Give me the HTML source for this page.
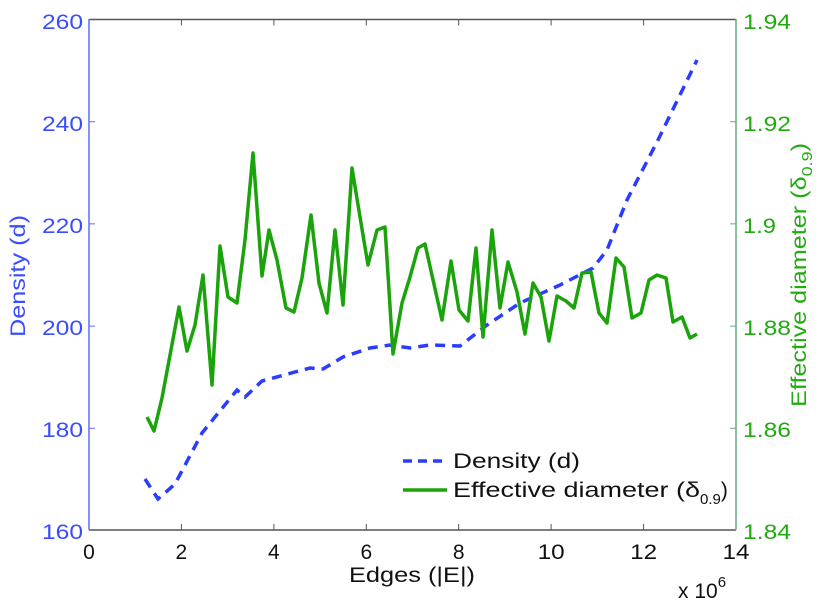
<!DOCTYPE html>
<html><head><meta charset="utf-8"><style>body{margin:0;background:#fff}svg{display:block}</style></head>
<body>
<svg width="822" height="600" xmlns="http://www.w3.org/2000/svg" font-family="Liberation Sans, sans-serif">
<rect width="822" height="600" fill="#fff"/>
<g stroke="#555" stroke-width="1.5" fill="none">
<line x1="89" y1="19.5" x2="736" y2="19.5"/>
<line x1="89" y1="530" x2="736" y2="530"/>
</g>
<g stroke="#555" stroke-width="1">
<path d="M181.4,530v-6M273.9,530v-6M366.3,530v-6M458.7,530v-6M551.1,530v-6M643.6,530v-6M181.4,19.5v6M273.9,19.5v6M366.3,19.5v6M458.7,19.5v6M551.1,19.5v6M643.6,19.5v6"/>
</g>
<line x1="89" y1="19" x2="89" y2="530" stroke="#5a6cff" stroke-width="1.5"/>
<path d="M89,121.7h6M89,223.9h6M89,326.1h6M89,428.2h6" stroke="#5a6cff"/>
<line x1="736" y1="19" x2="736" y2="530" stroke="#6aa88a" stroke-width="1.5"/>
<path d="M736,121.7h-6M736,223.9h-6M736,326.1h-6M736,428.2h-6" stroke="#6aa88a"/>
<g fill="#3a4cff" font-size="21" text-anchor="end">
<text x="83" y="29" textLength="41" lengthAdjust="spacingAndGlyphs">260</text><text x="83" y="131" textLength="41" lengthAdjust="spacingAndGlyphs">240</text><text x="83" y="233" textLength="41" lengthAdjust="spacingAndGlyphs">220</text><text x="83" y="335" textLength="41" lengthAdjust="spacingAndGlyphs">200</text><text x="83" y="437" textLength="41" lengthAdjust="spacingAndGlyphs">180</text><text x="83" y="539" textLength="41" lengthAdjust="spacingAndGlyphs">160</text>
</g>
<g fill="#22aa11" font-size="21" text-anchor="start">
<text x="743" y="29" textLength="48" lengthAdjust="spacingAndGlyphs">1.94</text><text x="743" y="131" textLength="48" lengthAdjust="spacingAndGlyphs">1.92</text><text x="743" y="233" textLength="33" lengthAdjust="spacingAndGlyphs">1.9</text><text x="743" y="335" textLength="48" lengthAdjust="spacingAndGlyphs">1.88</text><text x="743" y="437" textLength="48" lengthAdjust="spacingAndGlyphs">1.86</text><text x="743" y="539" textLength="48" lengthAdjust="spacingAndGlyphs">1.84</text>
</g>
<g fill="#111" font-size="21" text-anchor="middle">
<text x="89" y="559">0</text><text x="181.4" y="559">2</text><text x="273.9" y="559">4</text><text x="366.3" y="559">6</text><text x="458.7" y="559">8</text><text x="551.1" y="559" textLength="27" lengthAdjust="spacingAndGlyphs">10</text><text x="643.6" y="559" textLength="27" lengthAdjust="spacingAndGlyphs">12</text><text x="736" y="559" textLength="27" lengthAdjust="spacingAndGlyphs">14</text>
<text x="412" y="582" textLength="126" lengthAdjust="spacingAndGlyphs">Edges (|E|)</text>
</g>
<text x="678" y="598" fill="#111" font-size="21">x 10<tspan font-size="15" dy="-11">6</tspan></text>
<text transform="translate(25,276) rotate(-90)" fill="#3a4cff" font-size="21" text-anchor="middle" textLength="122" lengthAdjust="spacingAndGlyphs">Density (d)</text>
<text transform="translate(806,275) rotate(-90) scale(1.2,1)" fill="#22aa11" font-size="21" text-anchor="middle">Effective diameter (δ<tspan font-size="15" dy="6">0.9</tspan><tspan dy="-6">)</tspan></text>
<polyline fill="none" stroke="#2a3dff" stroke-width="3.5" stroke-dasharray="10,7" points="145,479 158,499 175,484 202,433 237,390 245,397 262,381 310,368 323,369 343,357 370,348 390,345 410,348 430,345 460,346 487,325 520,303 560,285 593,268 607,250 627,200 658,140 697,60"/>
<polyline fill="none" stroke="#1aa30a" stroke-width="3.5" stroke-linejoin="round" points="147,417 154,431 162,398 179,307 187,351 195,325 203,275 212,385 220,246 228,297 237,303 245,240 253,153 262,276 269,230 277,260 286,308 294,312 302,278 311,215 319,283 327,313 335,230 343,305 352,168 360,217 368,265 377,230 385,227 393,354 402,303 410,277 418,248 425,244 442,320 451,261 459,310 468,321 476,248 483,337 492,230 500,308 508,262 517,292 525,334 533,283 541,297 549,341 557,296 566,301 574,308 582,273 591,272 599,313 607,323 616,258 624,267 632,318 641,313 649,280 657,275 666,278 673,322 682,317 690,338 697,334"/>
<line x1="403" y1="461" x2="447" y2="461" stroke="#2a3dff" stroke-width="3.5" stroke-dasharray="9,6"/>
<line x1="403" y1="490" x2="447" y2="490" stroke="#1aa30a" stroke-width="3.5"/>
<g fill="#111" font-size="21">
<text x="453" y="468" textLength="127" lengthAdjust="spacingAndGlyphs">Density (d)</text>
<text x="453" y="497"><tspan textLength="247" lengthAdjust="spacingAndGlyphs">Effective diameter (δ</tspan><tspan font-size="15" dy="7">0.9</tspan><tspan dy="-7">)</tspan></text>
</g>
</svg>
</body></html>
